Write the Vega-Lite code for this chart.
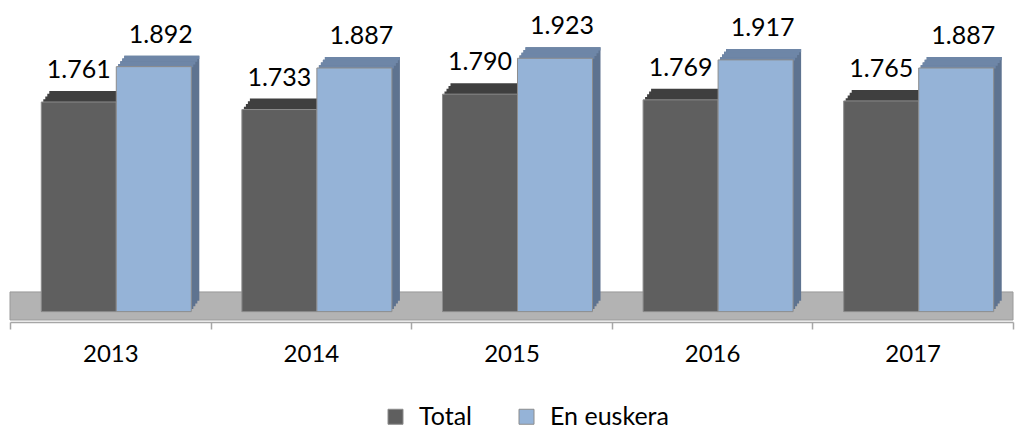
{
  "$schema": "https://vega.github.io/schema/vega-lite/v6.json",
  "width": 1003,
  "height": 322,
  "autosize": {"type": "none"},
  "padding": {"left": 10, "right": 10, "top": 0, "bottom": 107},
  "config": {
    "view": {"stroke": null},
    "font": "Lato",
    "locale": {"number": {"decimal": ",", "thousands": ".", "grouping": [3], "currency": ["", " €"]}}
  },
  "data": {"values": [
    {"anio": "2013", "serie": "Total", "valor": 1761},
    {"anio": "2013", "serie": "En euskera", "valor": 1892},
    {"anio": "2014", "serie": "Total", "valor": 1733},
    {"anio": "2014", "serie": "En euskera", "valor": 1887},
    {"anio": "2015", "serie": "Total", "valor": 1790},
    {"anio": "2015", "serie": "En euskera", "valor": 1923},
    {"anio": "2016", "serie": "Total", "valor": 1769},
    {"anio": "2016", "serie": "En euskera", "valor": 1917},
    {"anio": "2017", "serie": "Total", "valor": 1765},
    {"anio": "2017", "serie": "En euskera", "valor": 1887}
  ]},
  "layer": [
    {
      "data": {"values": [{}]},
      "mark": {"type": "rect", "fill": "#b3b3b3", "stroke": "#9a9a9a", "strokeWidth": 1, "x2Offset": 4},
      "encoding": {
        "y": {"datum": 953, "type": "quantitative", "axis": null, "scale": {"domain": [945.6, 2139], "nice": false, "zero": false}},
        "y2": {"datum": 1057}
      }
    },
    {
      "encoding": {
        "x": {"field": "anio", "type": "nominal", "scale": {"paddingInner": 0, "paddingOuter": 0},
          "axis": {"title": null, "labelAngle": 0, "labelFontSize": 24, "labelFont": "Lato", "labelColor": "#000000", "labelPadding": 13, "domainColor": "#a6a6a6", "domainWidth": 1.5, "tickColor": "#a6a6a6", "tickWidth": 1.5, "tickSize": 7, "tickBand": "extent"}},
        "y": {"field": "valor", "type": "quantitative", "axis": null, "scale": {"domain": [945.6, 2139], "nice": false, "zero": false}}
      },
      "layer": [
        {
          "transform": [{"filter": "datum.serie === 'Total'"}],
          "layer": [
            {"mark": {"type": "bar", "width": {"band": 0.374}, "fill": "#3f3f3f", "xOffset": -29.5, "yOffset": -2.75, "y2Offset": -2.75}, "encoding": {"y2": {"datum": 984}}},
            {"mark": {"type": "bar", "width": {"band": 0.374}, "fill": "#3f3f3f", "xOffset": -27.5, "yOffset": -5.5, "y2Offset": -5.5}, "encoding": {"y2": {"datum": 984}}},
            {"mark": {"type": "bar", "width": {"band": 0.374}, "fill": "#3f3f3f", "xOffset": -25.5, "yOffset": -8.25, "y2Offset": -8.25}, "encoding": {"y2": {"datum": 984}}},
            {"mark": {"type": "bar", "width": {"band": 0.374}, "fill": "#3f3f3f", "xOffset": -23.5, "yOffset": -11, "y2Offset": -11}, "encoding": {"y2": {"datum": 984}}},
            {"mark": {"type": "bar", "width": {"band": 0.374}, "xOffset": -31.5, "stroke": "#8c8c8c", "strokeWidth": 1},
             "encoding": {
               "y2": {"datum": 984},
               "color": {"field": "serie", "type": "nominal", "sort": ["Total", "En euskera"],
                 "scale": {"domain": ["Total", "En euskera"], "range": ["#5f5f5f", "#95b3d7"]},
                 "legend": {"title": null, "orient": "none", "legendX": 373, "legendY": 404, "direction": "horizontal", "symbolType": "square", "symbolSize": 225, "symbolStrokeColor": "#404040", "symbolStrokeWidth": 1, "symbolOpacity": 1, "labelFontSize": 25, "labelFont": "Lato", "labelColor": "#000000", "labelOffset": 11, "columnPadding": 42, "padding": 0}}
             }},
            {"mark": {"type": "text", "xOffset": -31.5, "dy": -24, "baseline": "alphabetic", "align": "center", "fontSize": 25, "font": "Lato", "color": "#000000"},
             "encoding": {"text": {"field": "valor", "type": "quantitative", "format": ",d"}}}
          ]
        },
        {
          "transform": [{"filter": "datum.serie === 'En euskera'"}],
          "layer": [
            {"mark": {"type": "bar", "width": {"band": 0.374}, "fill": "#5e7390", "xOffset": 45.5, "yOffset": -2.75, "y2Offset": -2.75}, "encoding": {"y2": {"datum": 984}}},
            {"mark": {"type": "bar", "width": {"band": 0.374}, "fill": "#5e7390", "xOffset": 47.5, "yOffset": -5.5, "y2Offset": -5.5}, "encoding": {"y2": {"datum": 984}}},
            {"mark": {"type": "bar", "width": {"band": 0.374}, "fill": "#5e7390", "xOffset": 49.5, "yOffset": -8.25, "y2Offset": -8.25}, "encoding": {"y2": {"datum": 984}}},
            {"mark": {"type": "bar", "width": {"band": 0.374}, "fill": "#5e7390", "xOffset": 51.5, "yOffset": -11, "y2Offset": -11}, "encoding": {"y2": {"datum": 984}}},
            {"mark": {"type": "bar", "width": {"band": 0.374}, "fill": "#6e86a7", "xOffset": 45.5, "yOffset": -2.75, "y2Offset": 0.5}, "encoding": {"y2": {"field": "valor"}}},
            {"mark": {"type": "bar", "width": {"band": 0.374}, "fill": "#6e86a7", "xOffset": 47.5, "yOffset": -5.5, "y2Offset": -2.25}, "encoding": {"y2": {"field": "valor"}}},
            {"mark": {"type": "bar", "width": {"band": 0.374}, "fill": "#6e86a7", "xOffset": 49.5, "yOffset": -8.25, "y2Offset": -5}, "encoding": {"y2": {"field": "valor"}}},
            {"mark": {"type": "bar", "width": {"band": 0.374}, "fill": "#6e86a7", "xOffset": 51.5, "yOffset": -11, "y2Offset": -7.75}, "encoding": {"y2": {"field": "valor"}}},
            {"mark": {"type": "bar", "width": {"band": 0.374}, "xOffset": 43.5, "stroke": "#8c8c8c", "strokeWidth": 1},
             "encoding": {
               "y2": {"datum": 984},
               "color": {"field": "serie", "type": "nominal", "sort": ["Total", "En euskera"]}
             }},
            {"mark": {"type": "text", "xOffset": 50.5, "dy": -24, "baseline": "alphabetic", "align": "center", "fontSize": 25, "font": "Lato", "color": "#000000"},
             "encoding": {"text": {"field": "valor", "type": "quantitative", "format": ",d"}}}
          ]
        }
      ]
    }
  ]
}
